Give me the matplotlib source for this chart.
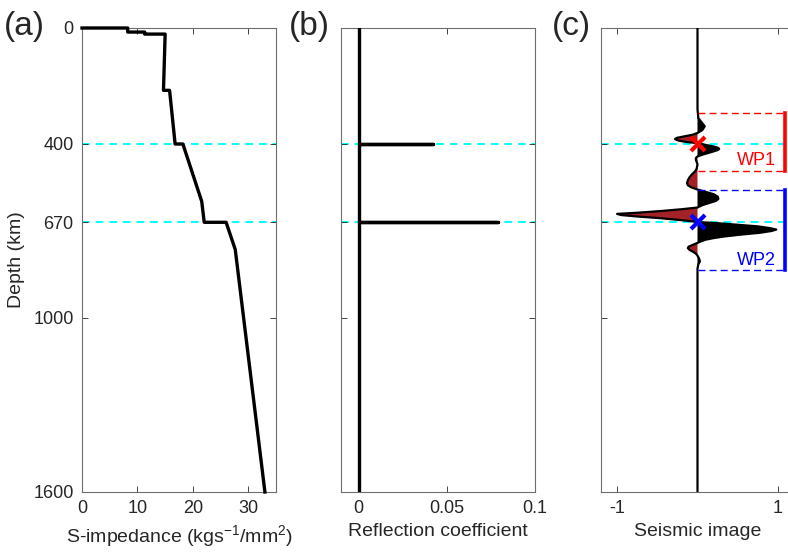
import matplotlib.pyplot as plt

plt.rcParams['font.family'] = ['Liberation Sans', 'DejaVu Sans']
plt.rcParams['mathtext.default'] = 'regular'
plt.rcParams['axes.unicode_minus'] = False

# S-impedance profile (kg s^-1 / m m^2) vs depth (km)
imp_depth = [0, 0, 14, 14, 21, 21, 215, 215, 400, 400, 598, 670, 670, 764, 1600]
imp_value = [0, 8.25, 8.25, 11.3, 11.3, 15.0, 14.7, 15.8, 16.8, 18.2, 21.6, 22.05, 26.0, 27.65, 33.0]

# reflection coefficients at the two discontinuities
rc_depth = [0, 400, 400, 400, 670, 670, 670, 1600]
rc_value = [0, 0, 0.042, 0, 0, 0.079, 0, 0]

# normalised seismic trace
tr_depth = [0, 280, 310, 325, 339, 352, 362, 368, 374, 379, 383, 388, 393, 397,
            403, 409, 414, 417, 421, 428, 436, 443, 448, 455, 462, 470, 485, 494,
            505, 515, 525, 535, 542, 549, 557, 565, 573, 581, 589, 596, 604, 611,
            619, 625, 631, 637, 641, 645, 650, 655, 660, 665, 669, 673, 678, 684,
            690, 695, 700, 706, 713, 719, 724, 730, 736, 741, 748, 754, 759, 765,
            771, 778, 785, 795, 805, 815, 830, 1600]
tr_value = [0, 0, 0.01, 0.05, 0.09, 0.06, 0.0, -0.06, -0.17, -0.26, -0.28, -0.24, -0.14, 0.0,
            0.10, 0.21, 0.26, 0.27, 0.25, 0.17, 0.07, 0.0, -0.02, -0.02, -0.01, 0.0, -0.01, -0.03,
            -0.07, -0.10, -0.12, -0.13, -0.12, -0.08, 0.0, 0.10, 0.20, 0.25, 0.26, 0.23, 0.14, 0.06,
            0.0, -0.20, -0.45, -0.75, -1.0, -0.95, -0.75, -0.50, -0.30, -0.12, 0.0, 0.25, 0.48, 0.75,
            0.90, 0.98, 0.92, 0.78, 0.52, 0.33, 0.21, 0.10, 0.04, 0.0, -0.06, -0.11, -0.12, -0.10,
            -0.06, -0.02, 0.0, 0.02, 0.03, 0.01, 0.0, 0.0]

discont = [400, 670]
wp_top = [293, 560]
wp_bot = [493, 833]
wp_names = ['WP1', 'WP2']
wp_colors = ['red', 'blue']
wp_text_depth = [457, 803]

ticks_depth = [0, 400, 670, 1000, 1600]
axcol = '#262626'

fig = plt.figure(figsize=(7.88, 5.55), dpi=100)
bottom, height = 1 - 492 / 555, 464 / 555
ax_a = fig.add_axes([82 / 788, bottom, 194 / 788, height])
ax_b = fig.add_axes([341 / 788, bottom, 194 / 788, height])
ax_c = fig.add_axes([601 / 788, bottom, 193 / 788, height])

for ax in (ax_a, ax_b, ax_c):
    ax.set_ylim(1600, 0)
    ax.set_yticks(ticks_depth)
    ax.tick_params(direction='in', top=True, right=True, length=4, width=0.6,
                   colors=axcol, labelsize=13, labelcolor=axcol, pad=6)
    for s in ax.spines.values():
        s.set_color('#6e6e6e')
        s.set_linewidth(0.8)
    for d in discont:
        ax.axhline(d, color='cyan', ls=(0, (4, 3)), lw=1.4, zorder=1)

# (a) impedance
ax_a.plot(imp_value, imp_depth, color='black', lw=2.4, zorder=3, clip_on=False)
ax_a.set_xlim(0, 35)
ax_a.set_xticks([0, 10, 20, 30])
ax_a.set_ylabel('Depth (km)', fontsize=14, color=axcol, labelpad=6)
ax_a.set_xlabel('S-impedance (kgs$^{-1}$/mm$^2$)', fontsize=14, color=axcol)

# (b) reflection coefficient
ax_b.plot(rc_value, rc_depth, color='black', lw=2.4, zorder=3)
ax_b.set_xlim(-0.01, 0.1)
ax_b.set_xticks([0, 0.05, 0.1])
ax_b.set_xticklabels(['0', '0.05', '0.1'])
ax_b.set_yticklabels([])
ax_b.set_xlabel('Reflection coefficient', fontsize=14, color=axcol)

# (c) seismic image
ax_c.fill_betweenx(tr_depth, 0, tr_value, where=[v < 0 for v in tr_value],
                   interpolate=True, color='#a32227', lw=0, zorder=2)
ax_c.fill_betweenx(tr_depth, 0, tr_value, where=[v > 0 for v in tr_value],
                   interpolate=True, color='black', lw=0, zorder=2)
ax_c.plot(tr_value, tr_depth, color='black', lw=1.6, zorder=3)
for top, bot, name, col, td in zip(wp_top, wp_bot, wp_names, wp_colors, wp_text_depth):
    ax_c.plot([0, 1.09], [top, top], color=col, lw=1.0, ls=(0, (5, 3)), zorder=3)
    ax_c.plot([0, 1.09], [bot, bot], color=col, lw=1.0, ls=(0, (5, 3)), zorder=3)
    ax_c.plot([1.09, 1.09], [top, bot], color=col, lw=2.6, zorder=3)
    ax_c.text(0.97, td, name, color=col, fontsize=13, ha='right', va='center')
for d, col in zip(discont, wp_colors):
    ax_c.plot(0, d, marker='x', color=col, ms=10, mew=3, zorder=4)
ax_c.set_xlim(-1.2, 1.2)
ax_c.set_xticks([-1, 1])
ax_c.set_yticklabels([])
ax_c.set_xlabel('Seismic image', fontsize=14, color=axcol)

# panel letters
for x, lab in zip([4, 289, 552], ['(a)', '(b)', '(c)']):
    fig.text(x / 788, 1 - 26 / 555, lab, fontsize=24, va='center', ha='left', color=axcol)

fig.savefig('out.png', dpi=100)
